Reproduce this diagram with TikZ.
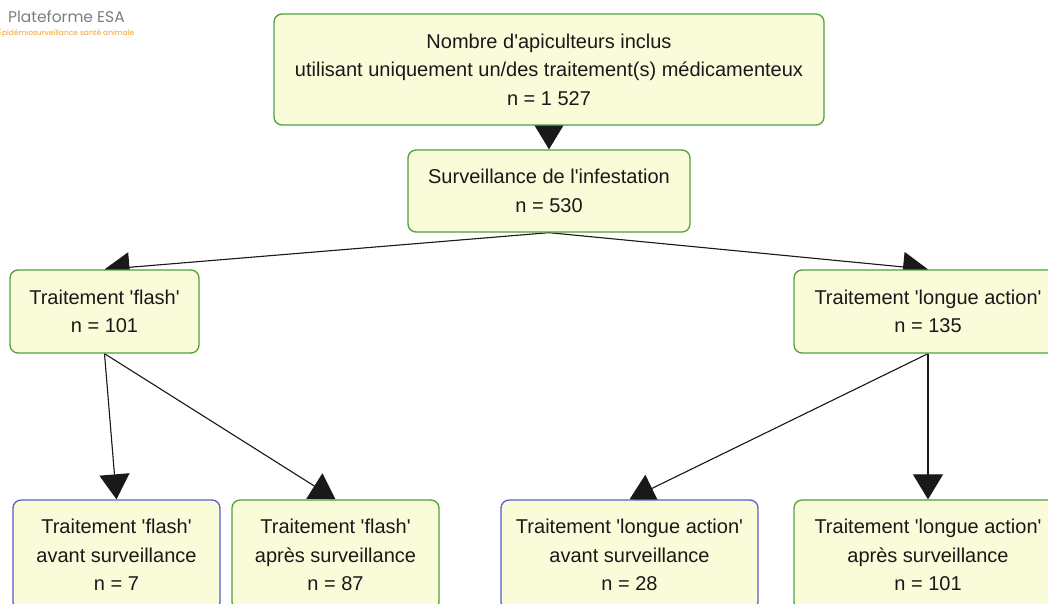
\documentclass[tikz,border=0pt]{standalone}
\usepackage{fontspec}
\setmainfont{Liberation Sans}
\newfontfamily\logofont{Poppins}
\usepackage{tikz}
\usetikzlibrary{positioning}
\usetikzlibrary{arrows.meta,backgrounds}
\definecolor{boxfill}{RGB}{250,251,216}
\definecolor{boxgreen}{RGB}{80,160,62}
\definecolor{boxblue}{RGB}{92,92,200}
\definecolor{textgray}{RGB}{25,25,25}
\definecolor{linegray}{RGB}{25,25,25}
\definecolor{logogray}{RGB}{125,125,125}
\definecolor{logoorange}{RGB}{245,160,40}
\newcommand{\apos}{\textquotesingle}
\tikzset{
	x=1pt, y=-1pt,
	>={Triangle[length=25pt,width=30pt]},
	box/.style = {rectangle, rounded corners=8pt, fill=boxfill, line width=1.3pt,
		align=center, inner sep=0pt, text=textgray,
		font=\fontsize{20}{28.5}\selectfont},
	greenbox/.style = {box, draw=boxgreen},
	bluebox/.style = {box, draw=boxblue},
	link/.style = {->, line width=1.1pt, draw=linegray, fill=linegray},
}

\begin{document}
\begin{tikzpicture}
	\useasboundingbox (0,0) rectangle (1048,603);
	\clip (0,0) rectangle (1048,603);
	\node (logo) [anchor=west, inner sep=0pt, text=logogray, font=\logofont\fontsize{15.5}{18}\selectfont] at (8,17) {Plateforme ESA};
	\node (tagline) [anchor=west, inner sep=0pt, text=logoorange, font=\logofont\fontsize{7.5}{9}\selectfont] at (-2,33) {Épidémiosurveillance santé animale};
	\node (total) [greenbox, minimum width=550, minimum height=111] at (549,69.5)
		{Nombre d\apos apiculteurs inclus\\utilisant uniquement un/des traitement(s) médicamenteux\\n = 1 527};
	\node (surv) [greenbox, minimum width=282, minimum height=82] at (549,191)
		{Surveillance de l\apos infestation\\n = 530};
	\node (flash) [greenbox, minimum width=189, minimum height=83] at (104.5,311.5)
		{Traitement \apos flash\apos\\n = 101};
	\node (longue) [greenbox, minimum width=268, minimum height=83] at (928,311.5)
		{Traitement \apos longue action\apos\\n = 135};
	\node (avflash) [bluebox, minimum width=207, minimum height=110] at (116.5,555)
		{Traitement \apos flash\apos\\avant surveillance\\n = 7};
	\node (apflash) [greenbox, minimum width=207, minimum height=110] at (335.5,555)
		{Traitement \apos flash\apos\\après surveillance\\n = 87};
	\node (avlongue) [bluebox, minimum width=257, minimum height=110] at (629.5,555)
		{Traitement \apos longue action\apos\\avant surveillance\\n = 28};
	\node (aplongue) [greenbox, minimum width=268, minimum height=110] at (928,555)
		{Traitement \apos longue action\apos\\après surveillance\\n = 101};
	% arrows go behind the boxes
	\begin{scope}[on background layer]
		\path (total.south) edge[link] (surv.north);
		\path (surv.south) edge[link] (flash.north);
		\path (surv.south) edge[link] (longue.north);
		\path (flash.south) edge[link] (avflash.north);
		\path (flash.south) edge[link] (apflash.north);
		\path (longue.south) edge[link] (avlongue.north);
		\path (longue.south) edge[link] (aplongue.north);
	\end{scope}
\end{tikzpicture}
\end{document}
